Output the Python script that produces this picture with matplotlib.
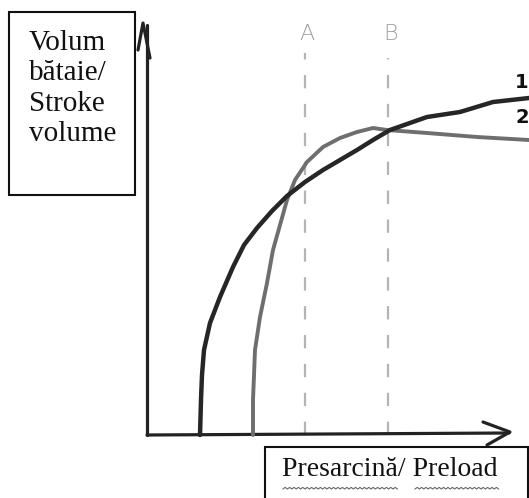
import numpy as np
import matplotlib.pyplot as plt
from matplotlib.patches import Rectangle

# sketch of stroke volume vs preload, origin of the drawn axes is (0, 0)
preload_1 = [53, 54, 55, 57, 63, 73, 86, 97, 110, 125, 140, 158, 176, 193, 210, 226, 243, 280, 313, 346, 382]
volume_1 = [0, 35, 60, 85, 112, 138, 168, 190, 207, 224, 239, 253, 265, 275, 285, 295, 305, 318, 323, 333, 337]

preload_2 = [106, 106, 108, 113, 120, 126, 133, 140, 148, 160, 176, 193, 210, 226, 240, 280, 330, 382]
volume_2 = [0, 35, 85, 118, 152, 185, 210, 235, 255, 273, 288, 297, 303, 307, 305, 302, 298, 295]

marker_names = ["A", "B"]
marker_x = [158, 241]
curve_names = ["1", "2"]
curve_label_y = [353, 318]

fig = plt.figure(figsize=(5.29, 4.98), dpi=100)
ax = fig.add_axes([0, 0, 1, 1])
ax.set_xlim(-147, 382)
ax.set_ylim(-63, 435)
ax.axis("off")

# dashed guides
for name, xm, ytop in zip(marker_names, marker_x, [382, 377]):
    ax.plot([xm, xm], [0, ytop], color="#b4b4b4", lw=1.6, ls=(0, (6, 7)), zorder=1)
    ax.text(xm + 2, 401, name, color="#a0a0a0", fontsize=16, ha="center", va="center",
            family="DejaVu Sans", fontweight="light")

# axes drawn by hand
ax.plot([0, 0], [0, 410], color="#222222", lw=2.3, solid_capstyle="round")
ax.plot([-9, -4, 3], [385, 412, 377], color="#222222", lw=2.3, solid_capstyle="round")
ax.plot([0, 362], [0, 2], color="#222222", lw=2.3, solid_capstyle="round")
ax.plot([336, 363, 340], [13, 3, -10], color="#222222", lw=2.3, solid_capstyle="round")

# curves
ax.plot(preload_2, volume_2, color="#6e6e6e", lw=2.8, solid_capstyle="round",
        solid_joinstyle="round", zorder=3)
ax.plot(preload_1, volume_1, color="#262626", lw=3.2, solid_capstyle="round",
        solid_joinstyle="round", zorder=4)
for name, yl in zip(curve_names, curve_label_y):
    ax.text(375, yl, name, fontsize=14, fontweight="bold", ha="center", va="center",
            family="DejaVu Sans", color="#111111")

# label boxes
ax.add_patch(Rectangle((-138, 240), 126, 183, fill=False, lw=1.5, ec="#111111"))
ax.text(-118, 405, "Volum\nbătaie/\nStroke\nvolume", fontsize=21, family="Liberation Serif",
        ha="left", va="top", linespacing=1.22, color="#111111")

ax.add_patch(Rectangle((118, -70), 263, 58, fill=False, lw=1.5, ec="#111111", clip_on=False))
ax.text(135, -34, "Presarcină/ Preload", fontsize=20, family="Liberation Serif",
        ha="left", va="center", color="#111111")

# spell-check squiggles under the words
for x0, x1 in [(136, 251), (268, 353)]:
    xs = np.arange(x0, x1, 2.2)
    ys = -54 + np.where(np.arange(len(xs)) % 2 == 0, 0, 1.6)
    ax.plot(xs, ys, color="#666666", lw=0.8)

fig.savefig("out.png", dpi=100)
